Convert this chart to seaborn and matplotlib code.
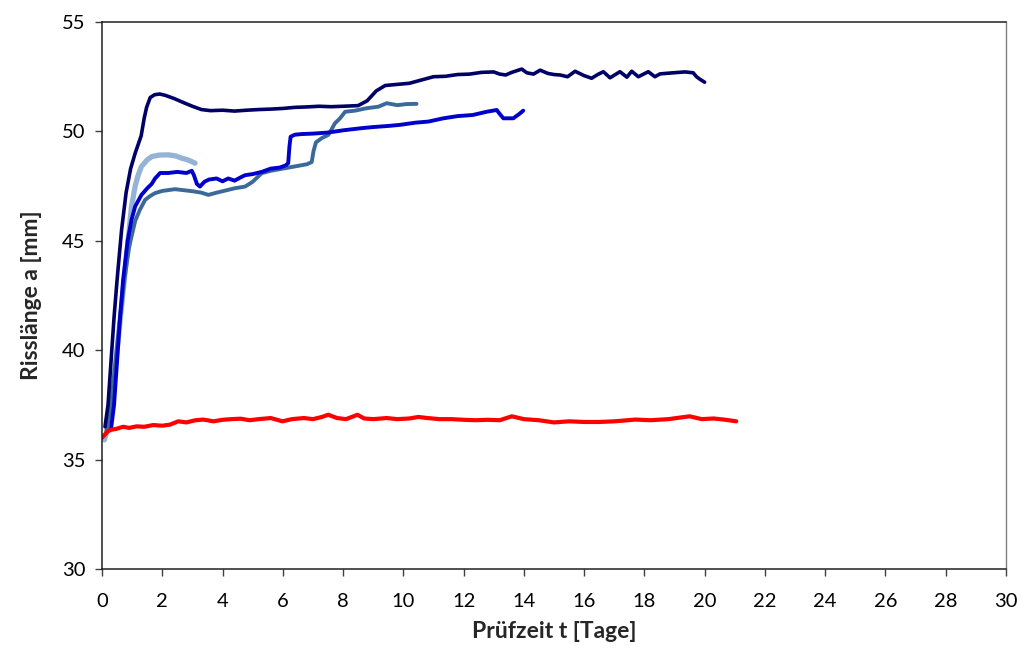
import matplotlib
matplotlib.use("Agg")
import matplotlib.pyplot as plt
import seaborn as sns
import pandas as pd

# Crack length a [mm] over test time t [days] for five specimens
t_navy = [0.10, 0.20, 0.30, 0.40, 0.50, 0.65, 0.80, 0.95, 1.10, 1.20, 1.30, 1.40, 1.48,
          1.60, 1.75, 1.92, 2.10, 2.40, 2.70, 3.00, 3.30, 3.60, 4.00, 4.40, 4.80, 5.20,
          5.60, 6.00, 6.40, 6.80, 7.20, 7.60, 8.00, 8.50, 8.80, 9.10, 9.40, 9.80, 10.20,
          10.60, 11.00, 11.40, 11.80, 12.20, 12.60, 13.00, 13.20, 13.40, 13.60, 13.93,
          14.10, 14.32, 14.54, 14.80, 15.00, 15.20, 15.45, 15.70, 16.00, 16.25, 16.45,
          16.64, 16.86, 17.19, 17.42, 17.58, 17.80, 18.13, 18.35, 18.52, 18.96, 19.35,
          19.62, 19.73, 19.85, 20.00]
a_navy = [36.5, 37.5, 39.5, 41.5, 43.2, 45.5, 47.2, 48.3, 49.0, 49.4, 49.8, 50.6, 51.1,
          51.55, 51.68, 51.71, 51.65, 51.5, 51.32, 51.15, 51.0, 50.95, 50.97, 50.93,
          50.97, 51.0, 51.02, 51.05, 51.1, 51.12, 51.15, 51.13, 51.15, 51.18, 51.4,
          51.85, 52.1, 52.15, 52.2, 52.35, 52.5, 52.52, 52.6, 52.62, 52.7, 52.72, 52.62,
          52.58, 52.7, 52.85, 52.68, 52.62, 52.8, 52.65, 52.6, 52.58, 52.5, 52.75,
          52.55, 52.43, 52.6, 52.73, 52.45, 52.73, 52.48, 52.75, 52.5, 52.73, 52.5,
          52.63, 52.68, 52.72, 52.68, 52.5, 52.38, 52.25]

t_blue = [0.30, 0.40, 0.50, 0.60, 0.70, 0.85, 0.98, 1.10, 1.31, 1.50, 1.65, 1.76, 1.93,
          2.20, 2.50, 2.80, 2.98, 3.05, 3.15, 3.25, 3.40, 3.55, 3.80, 4.00, 4.19, 4.40,
          4.60, 4.75, 5.00, 5.30, 5.60, 5.90, 6.10, 6.18, 6.22, 6.26, 6.40, 6.63, 7.00,
          7.51, 8.00, 8.62, 9.00, 9.50, 9.89, 10.40, 10.83, 11.33, 11.80, 12.30, 12.77,
          13.10, 13.20, 13.32, 13.65, 13.85, 13.98]
a_blue = [36.4, 37.5, 39.5, 41.5, 43.2, 45.0, 45.96, 46.57, 47.1, 47.4, 47.6, 47.85,
          48.1, 48.1, 48.15, 48.1, 48.2, 48.0, 47.6, 47.48, 47.7, 47.8, 47.85, 47.72,
          47.85, 47.75, 47.9, 48.0, 48.05, 48.15, 48.3, 48.35, 48.45, 48.55, 49.3,
          49.76, 49.85, 49.88, 49.9, 49.95, 50.05, 50.15, 50.2, 50.25, 50.3, 50.4,
          50.45, 50.6, 50.7, 50.75, 50.9, 50.98, 50.8, 50.6, 50.6, 50.8, 50.95]

t_steel = [0.15, 0.30, 0.45, 0.60, 0.75, 0.90, 0.98, 1.10, 1.25, 1.43, 1.60, 1.76, 2.00,
           2.42, 2.80, 3.09, 3.30, 3.53, 3.80, 4.10, 4.40, 4.75, 5.00, 5.30, 5.60, 6.00,
           6.40, 6.80, 6.96, 7.02, 7.10, 7.30, 7.51, 7.62, 7.73, 7.90, 8.07, 8.40, 8.78,
           9.17, 9.45, 9.80, 10.10, 10.44]
a_steel = [36.3, 37.5, 39.5, 41.5, 43.3, 44.7, 45.2, 45.9, 46.4, 46.87, 47.05, 47.18,
           47.28, 47.36, 47.3, 47.25, 47.2, 47.1, 47.2, 47.3, 47.4, 47.48, 47.7, 48.09,
           48.2, 48.3, 48.4, 48.5, 48.6, 49.1, 49.5, 49.7, 49.84, 50.1, 50.37, 50.6,
           50.9, 50.95, 51.06, 51.13, 51.29, 51.2, 51.25, 51.26]

t_light = [0.08, 0.20, 0.35, 0.50, 0.65, 0.76, 0.88, 0.98, 1.10, 1.20, 1.31, 1.50, 1.65,
           1.90, 2.20, 2.45, 2.64, 2.85, 3.09]
a_light = [35.9, 36.5, 38.0, 40.0, 42.0, 43.5, 45.2, 46.57, 47.5, 48.0, 48.4, 48.7,
           48.85, 48.92, 48.93, 48.88, 48.78, 48.7, 48.55]

t_red = [0.00, 0.10, 0.20, 0.32, 0.46, 0.70, 0.90, 1.15, 1.40, 1.70, 2.00, 2.26, 2.53,
         2.80, 3.10, 3.36, 3.70, 4.00, 4.30, 4.60, 4.90, 5.20, 5.60, 5.99, 6.30, 6.70,
         7.00, 7.30, 7.51, 7.80, 8.10, 8.48, 8.70, 9.00, 9.45, 9.80, 10.20, 10.50,
         10.80, 11.20, 11.60, 12.00, 12.40, 12.80, 13.20, 13.60, 14.00, 14.50, 15.00,
         15.50, 16.00, 16.50, 17.00, 17.70, 18.20, 18.80, 19.50, 19.90, 20.30, 20.70,
         21.05]
a_red = [36.0, 36.15, 36.3, 36.37, 36.4, 36.5, 36.45, 36.52, 36.5, 36.58, 36.55, 36.6,
         36.75, 36.7, 36.8, 36.83, 36.75, 36.82, 36.85, 36.87, 36.8, 36.85, 36.9, 36.75,
         36.85, 36.9, 36.85, 36.95, 37.05, 36.9, 36.85, 37.05, 36.88, 36.85, 36.9,
         36.85, 36.88, 36.95, 36.9, 36.85, 36.85, 36.82, 36.8, 36.82, 36.8, 36.98,
         36.85, 36.8, 36.7, 36.75, 36.72, 36.72, 36.75, 36.83, 36.8, 36.85, 36.98,
         36.85, 36.88, 36.82, 36.75]

x_ticks = list(range(0, 31, 2))
y_ticks = [30, 35, 40, 45, 50, 55]

sns.set_theme(style="ticks")
plt.rcParams["font.family"] = ["Lato", "DejaVu Sans"]

fig = plt.figure(figsize=(10.22, 6.48), dpi=100)
ax = fig.add_axes([0.0998, 0.1219, 0.8845, 0.8441])

series = [
    (t_light, a_light, "#95B3D7", 3.8),
    (t_steel, a_steel, "#3B6A9A", 2.8),
    (t_blue, a_blue, "#0000CC", 2.8),
    (t_navy, a_navy, "#000066", 2.6),
    (t_red, a_red, "#FF0000", 3.0),
]
for t, a, color, lw in series:
    df = pd.DataFrame({"t": t, "a": a})
    sns.lineplot(data=df, x="t", y="a", ax=ax, color=color, linewidth=lw,
                 sort=False, estimator=None, solid_capstyle="round")

ax.set_xlim(0, 30)
ax.set_ylim(30, 55)
ax.set_xticks(x_ticks)
ax.set_yticks(y_ticks)
ax.tick_params(axis="both", direction="out", length=5, width=1, color="#404040",
               labelsize=14.5, labelcolor="black")
ax.tick_params(axis="x", pad=12)
ax.tick_params(axis="y", pad=7)

for side in ["left", "bottom", "top"]:
    ax.spines[side].set_color("#202020")
    ax.spines[side].set_linewidth(1.1)
ax.spines["right"].set_color("#808080")
ax.spines["right"].set_linewidth(1.0)

ax.set_xlabel("Prüfzeit t [Tage]", fontsize=16.5, fontweight="bold", labelpad=8)
ax.set_ylabel("Risslänge a [mm]", fontsize=16.5, fontweight="bold", labelpad=14)

fig.savefig("out.png", dpi=100)
